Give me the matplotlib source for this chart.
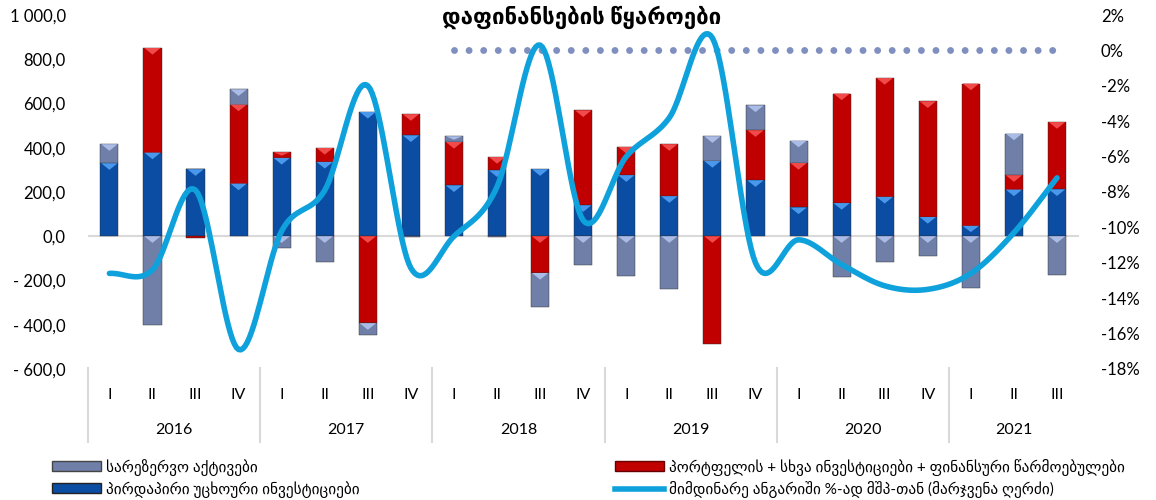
import numpy as np
import matplotlib
matplotlib.use("Agg")
from matplotlib import pyplot as plt
from matplotlib.patches import Polygon, Patch
from matplotlib.lines import Line2D
from matplotlib.ticker import FuncFormatter

plt.rcParams['font.family'] = ['Lato', 'DejaVu Sans']

# data (mln USD, right axis in % of GDP)
years = ['2016', '2017', '2018', '2019', '2020', '2021']
quarters = ['I', 'II', 'III', 'IV'] * 5 + ['I', 'II', 'III']
fdi = [330, 378, 303, 238, 354, 336, 562, 456, 230, 298, 303, 140,
       276, 181, 340, 253, 130, 150, 178, 87, 47, 211, 212]
portfolio = [0, 473, -8, 357, 26, 63, -393, 96, 196, 60, -166, 429,
             128, 235, -489, 226, 201, 495, 537, 523, 643, 65, 304]
reserves = [86, -402, 0, 69, -54, -116, -54, -5, 26, -5, -156, -131,
            -179, -240, 112, 112, 101, -184, -116, -90, -236, 188, -176]
ca_gdp = [-12.6, -12.4, -7.9, -16.9, -10.2, -7.9, -2.0, -12.3, -10.5, -7.7, 0.3, -9.6,
          -6.0, -3.8, 0.7, -12.0, -10.7, -12.1, -13.3, -13.5, -12.6, -10.3, -7.2]
zero_ref = [np.nan] * 8 + [0.0] * 15

names = ['სარეზერვო აქტივები',
         'პირდაპირი უცხოური ინვესტიციები',
         'პორტფელის + სხვა ინვესტიციები + ფინანსური წარმოებულები',
         'მიმდინარე ანგარიში %-ად მშპ-თან (მარჯვენა ღერძი)']
title = 'დაფინანსების წყაროები'

blue, blue_l = '#0B4DA2', '#4A98EC'
red, red_l = '#C00000', '#F04A4A'
grey, grey_l = '#6F7FA8', '#AABBE6'
line_c = '#0EA1DB'


def smooth(y, n=20):
    # catmull-rom like Excel's smoothed line
    y = np.asarray(y, float)
    x = np.arange(len(y))
    m = np.gradient(y)
    m[1:-1] = (y[2:] - y[:-2]) / 2
    xs, ys = [], []
    for i in range(len(y) - 1):
        t = np.linspace(0, 1, n, endpoint=False)
        h00 = 2*t**3 - 3*t**2 + 1
        h10 = t**3 - 2*t**2 + t
        h01 = -2*t**3 + 3*t**2
        h11 = t**3 - t**2
        xs.append(x[i] + t)
        ys.append(h00*y[i] + h10*m[i] + h01*y[i+1] + h11*m[i+1])
    xs.append([x[-1]])
    ys.append([y[-1]])
    return np.concatenate(xs), np.concatenate(ys)


fig = plt.figure(figsize=(11.56, 5.0), dpi=100)
ax = fig.add_axes([0.076, 0.262, 0.857, 0.708])
ax2 = ax.twinx()

x = np.arange(len(quarters))
w = 0.42
pos = np.zeros(len(x))
neg = np.zeros(len(x))
for vals, c, cl in [(fdi, blue, blue_l), (portfolio, red, red_l), (reserves, grey, grey_l)]:
    v = np.array(vals, float)
    bottom = np.where(v >= 0, pos, neg)
    ax.bar(x, v, w, bottom=bottom, color=c, edgecolor='#2a2a2a', linewidth=0.3, zorder=2)
    top = np.where(v >= 0, pos + v, neg)
    for xi, ti, vi in zip(x, top, v):
        if abs(vi) < 12:
            continue
        h = min(30, abs(vi) * 0.6)
        ax.add_patch(Polygon([[xi - w/2 + 0.02, ti], [xi + w/2 - 0.02, ti], [xi, ti - h]],
                             closed=True, color=cl, zorder=3, lw=0))
    pos = np.where(v >= 0, pos + v, pos)
    neg = np.where(v < 0, neg + v, neg)

ax.axhline(0, color='#D9D9D9', lw=1.5, zorder=1)
ax.set_xlim(-0.5, len(x) - 0.5)
ax.set_ylim(-600, 1000)
ax.set_yticks(range(-600, 1001, 200))


def fmt_left(v, p):
    s = f'{abs(v):,.1f}'.replace(',', ' ').replace('.', ',')
    return ('- ' + s) if v < 0 else s


ax.yaxis.set_major_formatter(FuncFormatter(fmt_left))
ax.set_xticks([])
ax.tick_params(axis='y', length=0, pad=16, labelsize=12)
for s in ax.spines.values():
    s.set_visible(False)

sx, sy = smooth(ca_gdp)
ax2.plot(sx, sy, color=line_c, lw=4, solid_capstyle='round', zorder=5)
ax2.plot(x, zero_ref, color='#7F8FBF', lw=5, linestyle=(0, (0.001, 2.1)),
         dash_capstyle='round', zorder=4)
ax2.set_ylim(-18, 2)
ax2.set_yticks(range(-18, 3, 2))
ax2.yaxis.set_major_formatter(FuncFormatter(lambda v, p: f'{v:.0f}%'))
ax2.tick_params(axis='y', length=0, pad=16, labelsize=12)
for s in ax2.spines.values():
    s.set_visible(False)

# two-level category axis
tr = ax.get_xaxis_transform()
for xi, q in zip(x, quarters):
    ax.text(xi, -0.073, q, transform=tr, ha='center', va='center', fontsize=11.5)
for i, yr in enumerate(years):
    n = 3 if yr == '2021' else 4
    ax.text(i * 4 + (n - 1) / 2, -0.172, yr, transform=tr, ha='center', va='center', fontsize=11.5)
    ax.plot([i * 4 - 0.5] * 2, [0.003, -0.206], transform=tr, color='#D9D9D9', lw=1.5, clip_on=False)

fig.text(0.503, 0.965, title, ha='center', va='center', fontsize=16, fontweight='bold')

h1 = [Patch(facecolor=grey, edgecolor='#444'), Patch(facecolor=blue, edgecolor='#222')]
h2 = [Patch(facecolor=red, edgecolor='#600'), Line2D([0], [0], color=line_c, lw=4)]
kw = dict(frameon=False, fontsize=11, handlelength=3.2, handleheight=0.6,
          handletextpad=0.3, labelspacing=0.35, borderaxespad=0)
fig.legend(h1, names[:2], loc='upper left', bbox_to_anchor=(0.04, 0.095), **kw)
fig.legend(h2, names[2:], loc='upper left', bbox_to_anchor=(0.527, 0.095), **kw)

plt.savefig('out.png', dpi=100)
